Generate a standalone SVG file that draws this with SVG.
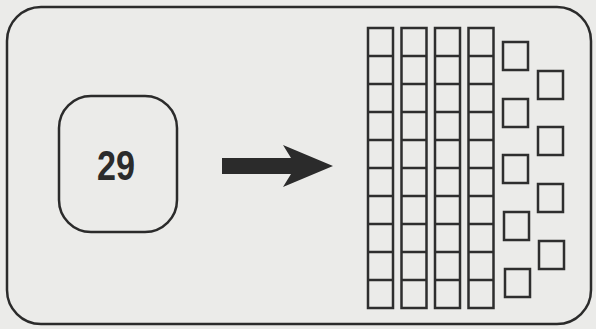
<svg xmlns="http://www.w3.org/2000/svg" width="596" height="329" viewBox="0 0 596 329">
<defs>
<style>
.frame{fill:none;stroke:#2b2b2b;stroke-width:2.5}
.sq{fill:none;stroke:#2e2e2e;stroke-width:2.5}
.num{font-family:"Liberation Sans",Arial,sans-serif;font-weight:bold;font-size:42px;fill:#2b2b2b}
</style>
<g id="tencol">
<rect class="sq" x="0" y="0" width="25" height="280"/>
<path class="sq" d="M0 28H25M0 56H25M0 84H25M0 112H25M0 140H25M0 168H25M0 196H25M0 224H25M0 252H25"/>
</g>
<rect id="one" class="sq" x="0" y="0" width="25" height="28"/>
</defs>
<rect width="596" height="329" fill="#ebebe9"/>
<g id="card">
<rect class="frame" x="7" y="7" width="584" height="317" rx="34"/>
</g>
<g id="number">
<rect class="frame" x="59" y="96" width="118" height="136" rx="32"/>
<text class="num" x="116" y="180" text-anchor="middle" textLength="38" lengthAdjust="spacingAndGlyphs">29</text>
</g>
<g id="connectors">
<polygon points="222,158 291,158 283,145 333,166 283,187 291,174 222,174" fill="#2b2b2b"/>
</g>
<g id="tens">
<use href="#tencol" x="368" y="28"/>
<use href="#tencol" x="401.5" y="28"/>
<use href="#tencol" x="435" y="28"/>
<use href="#tencol" x="468.5" y="28"/>
</g>
<g id="ones">
<use href="#one" x="503" y="42"/>
<use href="#one" x="538" y="71"/>
<use href="#one" x="503" y="99"/>
<use href="#one" x="538" y="127"/>
<use href="#one" x="503" y="155"/>
<use href="#one" x="538" y="184"/>
<use href="#one" x="504" y="212"/>
<use href="#one" x="539" y="241"/>
<use href="#one" x="505" y="269"/>
</g>
</svg>
